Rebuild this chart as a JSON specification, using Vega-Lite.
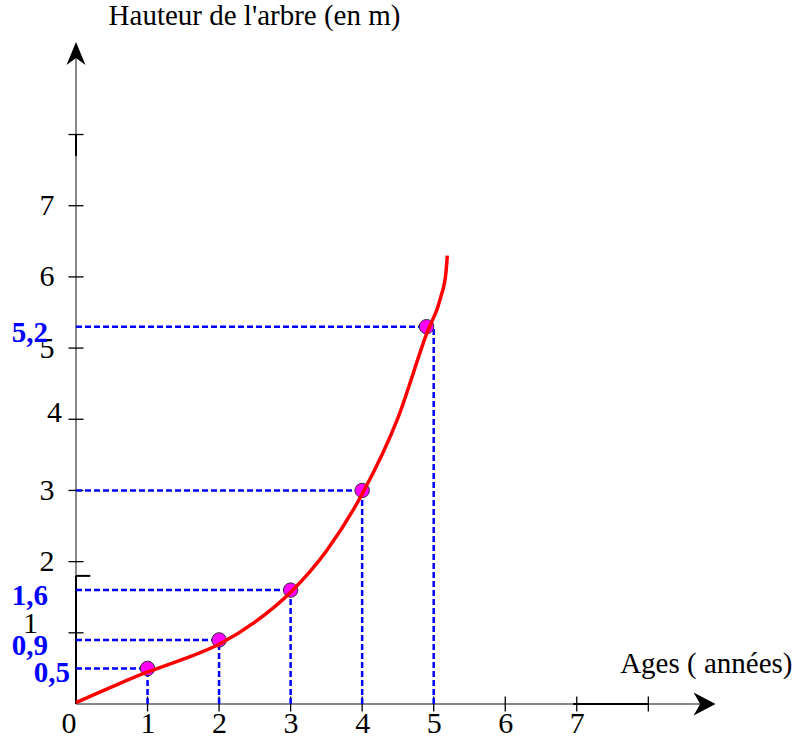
{
  "$schema": "https://vega.github.io/schema/vega-lite/v6.json",
  "width": 641,
  "height": 662,
  "autosize": {"type": "none"},
  "padding": {"left": 76, "top": 42, "right": 95, "bottom": 41},
  "background": "white",
  "config": {
    "view": {"stroke": null},
    "font": "Liberation Serif",
    "axis": {
      "domain": false, "ticks": false, "grid": false,
      "labelFont": "Liberation Serif", "labelFontSize": 30, "labelColor": "black",
      "titleFont": "Liberation Serif", "titleFontSize": 29, "titleFontWeight": "normal", "titleColor": "black",
      "labelOverlap": false, "labelFlush": false
    }
  },
  "datasets": {
    "curve": [
      {"x": 0, "y": 0.02}, {"x": 0.5, "y": 0.24}, {"x": 1, "y": 0.45}, {"x": 1.5, "y": 0.63},
      {"x": 2, "y": 0.84}, {"x": 2.5, "y": 1.15}, {"x": 3, "y": 1.57}, {"x": 3.5, "y": 2.15},
      {"x": 4, "y": 2.95}, {"x": 4.5, "y": 4.02}, {"x": 4.9, "y": 5.2}, {"x": 5.1, "y": 5.72},
      {"x": 5.17, "y": 6.05}, {"x": 5.19, "y": 6.3}
    ],
    "pts": [
      {"x": 1, "y": 0.5}, {"x": 2, "y": 0.9}, {"x": 3, "y": 1.6}, {"x": 4, "y": 3}, {"x": 4.9, "y": 5.3}
    ],
    "guides": [
      {"x": 1, "y": 0.5, "x0": 0, "y0": 0, "lab": "0,5"},
      {"x": 2, "y": 0.9, "x0": 0, "y0": 0, "lab": "0,9"},
      {"x": 3, "y": 1.6, "x0": 0, "y0": 0, "lab": "1,6"},
      {"x": 4, "y": 3, "x0": 0, "y0": 0, "lab": ""},
      {"x": 5, "y": 5.3, "x0": 0, "y0": 0, "lab": "5,2"}
    ],
    "ticks": [
      {"v": 1, "zero": 0}, {"v": 2, "zero": 0}, {"v": 3, "zero": 0}, {"v": 4, "zero": 0},
      {"v": 5, "zero": 0}, {"v": 6, "zero": 0}, {"v": 7, "zero": 0}, {"v": 8, "zero": 0}
    ],
    "axislines": [
      {"x": 0, "x2": 8.85, "y": 0, "y2": 0},
      {"x": 0, "x2": 0, "y": 0, "y2": 9.2}
    ],
    "darksegs": [
      {"x": 0, "x2": 0, "y": 0, "y2": 1.8},
      {"x": 0, "x2": 0, "y": 7.7, "y2": 8},
      {"x": 6.95, "x2": 8, "y": 0, "y2": 0},
      {"x": 0, "x2": 0.2, "y": 1.8, "y2": 1.8}
    ],
    "arrows": [
      {"x": 8.94, "y": 0, "dir": "right"},
      {"x": 0, "y": 9.3, "dir": "up"}
    ]
  },
  "layer": [
    {
      "data": {"name": "pts"},
      "mark": {"type": "point", "filled": true, "fill": "#FF00FF", "stroke": "#333333", "strokeWidth": 1, "size": 210, "opacity": 0},
      "encoding": {
        "x": {
          "field": "x", "type": "quantitative",
          "scale": {"domain": [0, 8.96], "nice": false, "zero": false},
          "axis": {
            "orient": "bottom",
            "values": [0, 1, 2, 3, 4, 5, 6, 7],
            "format": "d",
            "title": "Ages ( années)",
            "titleX": 716, "titleY": -32, "titleAlign": "right", "titleBaseline": "alphabetic",
            "labelPadding": 4, "labelBaseline": "top",
            "labelAlign": {"condition": {"test": "datum.value === 0", "value": "right"}, "value": "center"}
          }
        },
        "y": {
          "field": "y", "type": "quantitative",
          "scale": {"domain": [0, 9.3], "nice": false, "zero": false},
          "axis": {
            "orient": "left",
            "values": [1, 2, 3, 4, 5, 6, 7],
            "format": "d",
            "labelExpr": "datum.value === 1 || datum.value === 4 ? '' : datum.label",
            "title": "Hauteur de l'arbre (en m)",
            "titleAngle": 0, "titleX": 178, "titleY": -18, "titleAlign": "center", "titleBaseline": "alphabetic",
            "labelBaseline": "middle", "labelPadding": 22
          }
        }
      }
    },
    {
      "data": {"name": "axislines"},
      "mark": {"type": "rule", "color": "#888888", "strokeWidth": 2},
      "encoding": {
        "x": {"field": "x", "type": "quantitative", "scale": {"domain": [0, 8.96], "nice": false, "zero": false}},
        "x2": {"field": "x2"},
        "y": {"field": "y", "type": "quantitative", "scale": {"domain": [0, 9.3], "nice": false, "zero": false}},
        "y2": {"field": "y2"}
      }
    },
    {
      "data": {"name": "darksegs"},
      "mark": {"type": "rule", "color": "black", "strokeWidth": 2},
      "encoding": {
        "x": {"field": "x", "type": "quantitative", "scale": {"domain": [0, 8.96], "nice": false, "zero": false}},
        "x2": {"field": "x2"},
        "y": {"field": "y", "type": "quantitative", "scale": {"domain": [0, 9.3], "nice": false, "zero": false}},
        "y2": {"field": "y2"}
      }
    },
    {
      "data": {"name": "ticks"},
      "mark": {"type": "tick", "orient": "vertical", "color": "black", "size": 15, "thickness": 1.3, "opacity": 1},
      "encoding": {
        "x": {"field": "v", "type": "quantitative", "scale": {"domain": [0, 8.96], "nice": false, "zero": false}},
        "y": {"field": "zero", "type": "quantitative", "scale": {"domain": [0, 9.3], "nice": false, "zero": false}}
      }
    },
    {
      "data": {"name": "ticks"},
      "mark": {"type": "tick", "orient": "horizontal", "color": "black", "size": 15, "thickness": 1.3, "opacity": 1},
      "encoding": {
        "x": {"field": "zero", "type": "quantitative", "scale": {"domain": [0, 8.96], "nice": false, "zero": false}},
        "y": {"field": "v", "type": "quantitative", "scale": {"domain": [0, 9.3], "nice": false, "zero": false}}
      }
    },
    {
      "data": {"name": "ticks"},
      "transform": [{"filter": "datum.v === 1"}],
      "mark": {"type": "text", "align": "right", "baseline": "alphabetic", "dx": -38, "dy": 0, "fontSize": 30, "color": "black", "font": "Liberation Serif"},
      "encoding": {
        "x": {"field": "zero", "type": "quantitative", "scale": {"domain": [0, 8.96], "nice": false, "zero": false}},
        "y": {"field": "v", "type": "quantitative", "scale": {"domain": [0, 9.3], "nice": false, "zero": false}},
        "text": {"field": "v", "type": "quantitative", "format": "d"}
      }
    },
    {
      "data": {"name": "ticks"},
      "transform": [{"filter": "datum.v === 4"}],
      "mark": {"type": "text", "align": "right", "baseline": "alphabetic", "dx": -14, "dy": 3, "fontSize": 30, "color": "black", "font": "Liberation Serif"},
      "encoding": {
        "x": {"field": "zero", "type": "quantitative", "scale": {"domain": [0, 8.96], "nice": false, "zero": false}},
        "y": {"field": "v", "type": "quantitative", "scale": {"domain": [0, 9.3], "nice": false, "zero": false}},
        "text": {"field": "v", "type": "quantitative", "format": "d"}
      }
    },
    {
      "data": {"name": "guides"},
      "mark": {"type": "rule", "color": "#0000FF", "strokeWidth": 2.5, "strokeDash": [6, 3]},
      "encoding": {
        "x": {"field": "x0", "type": "quantitative", "scale": {"domain": [0, 8.96], "nice": false, "zero": false}},
        "x2": {"field": "x"},
        "y": {"field": "y", "type": "quantitative", "scale": {"domain": [0, 9.3], "nice": false, "zero": false}},
        "y2": {"field": "y"}
      }
    },
    {
      "data": {"name": "guides"},
      "mark": {"type": "rule", "color": "#0000FF", "strokeWidth": 2.5, "strokeDash": [6, 3]},
      "encoding": {
        "x": {"field": "x", "type": "quantitative", "scale": {"domain": [0, 8.96], "nice": false, "zero": false}},
        "x2": {"field": "x"},
        "y": {"field": "y0", "type": "quantitative", "scale": {"domain": [0, 9.3], "nice": false, "zero": false}},
        "y2": {"field": "y"}
      }
    },
    {
      "data": {"name": "pts"},
      "mark": {"type": "point", "filled": true, "fill": "#FF00FF", "stroke": "#333333", "strokeWidth": 1, "size": 210, "opacity": 1},
      "encoding": {
        "x": {"field": "x", "type": "quantitative", "scale": {"domain": [0, 8.96], "nice": false, "zero": false}},
        "y": {"field": "y", "type": "quantitative", "scale": {"domain": [0, 9.3], "nice": false, "zero": false}}
      }
    },
    {
      "data": {"name": "curve"},
      "mark": {"type": "line", "color": "#FF0000", "strokeWidth": 3.5, "interpolate": "monotone"},
      "encoding": {
        "x": {"field": "x", "type": "quantitative", "scale": {"domain": [0, 8.96], "nice": false, "zero": false}},
        "y": {"field": "y", "type": "quantitative", "scale": {"domain": [0, 9.3], "nice": false, "zero": false}}
      }
    },
    {
      "data": {"name": "guides"},
      "transform": [{"filter": "datum.lab !== '' && datum.lab !== '0,5'"}],
      "mark": {"type": "text", "align": "right", "baseline": "middle", "dx": -28, "dy": 6, "fontSize": 29, "fontWeight": "bold", "color": "#0000FF", "font": "Liberation Serif"},
      "encoding": {
        "x": {"field": "x0", "type": "quantitative", "scale": {"domain": [0, 8.96], "nice": false, "zero": false}},
        "y": {"field": "y", "type": "quantitative", "scale": {"domain": [0, 9.3], "nice": false, "zero": false}},
        "text": {"field": "lab", "type": "nominal"}
      }
    },
    {
      "data": {"name": "guides"},
      "transform": [{"filter": "datum.lab === '0,5'"}],
      "mark": {"type": "text", "align": "right", "baseline": "middle", "dx": -6, "dy": 5, "fontSize": 29, "fontWeight": "bold", "color": "#0000FF", "font": "Liberation Serif"},
      "encoding": {
        "x": {"field": "x0", "type": "quantitative", "scale": {"domain": [0, 8.96], "nice": false, "zero": false}},
        "y": {"field": "y", "type": "quantitative", "scale": {"domain": [0, 9.3], "nice": false, "zero": false}},
        "text": {"field": "lab", "type": "nominal"}
      }
    },
    {
      "data": {"name": "arrows"},
      "mark": {"type": "point", "filled": true, "color": "black", "size": 484, "opacity": 1},
      "encoding": {
        "x": {"field": "x", "type": "quantitative", "scale": {"domain": [0, 8.96], "nice": false, "zero": false}},
        "y": {"field": "y", "type": "quantitative", "scale": {"domain": [0, 9.3], "nice": false, "zero": false}},
        "shape": {
          "field": "dir", "type": "nominal", "legend": null,
          "scale": {"domain": ["right", "up"], "range": ["M0,0L-2,-1.05L-1.4,0L-2,1.05Z", "M0,0L-0.86,2.1L0,1.45L0.86,2.1Z"]}
        }
      }
    }
  ]
}
